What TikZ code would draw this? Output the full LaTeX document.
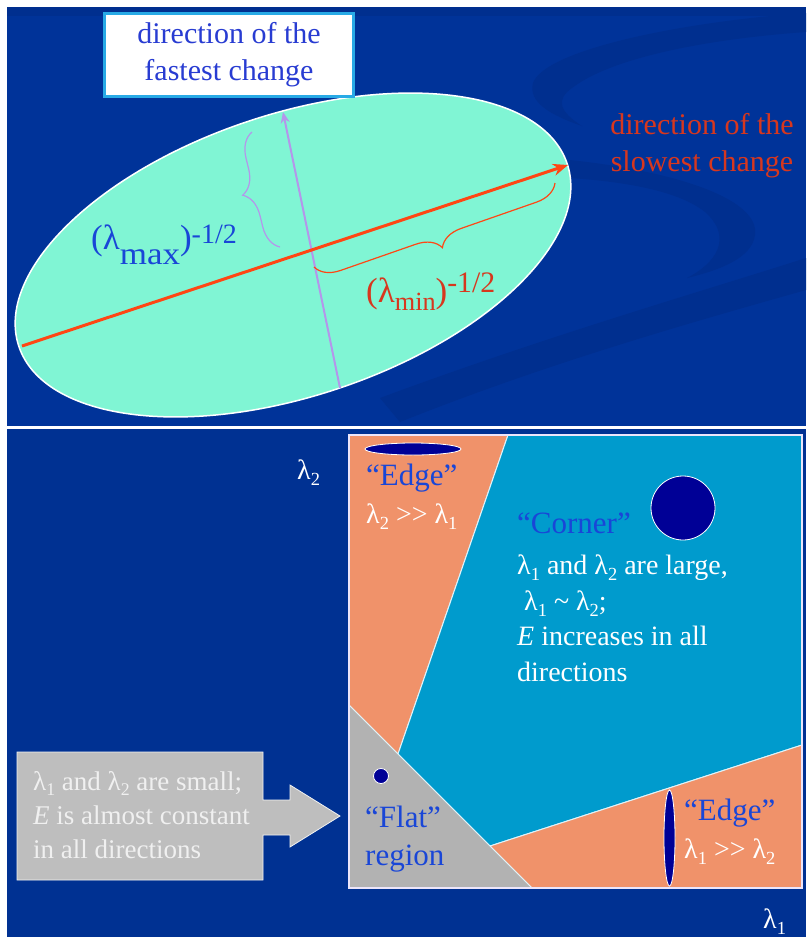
\documentclass[tikz,border=0pt]{standalone}
\usepackage{fontspec}
\setmainfont{Liberation Serif}
\usepackage{graphicx}
\usepackage{tikz}
\usetikzlibrary{arrows.meta,positioning,decorations.pathreplacing}
\definecolor{topbg}{RGB}{0,51,153}
\definecolor{botbg}{RGB}{0,49,146}
\definecolor{band}{RGB}{0,47,143}
\definecolor{aqua}{RGB}{128,245,212}
\definecolor{boxcyan}{RGB}{40,170,230}
\definecolor{fastblue}{RGB}{40,60,210}
\definecolor{slowred}{RGB}{215,55,30}
\definecolor{slowline}{RGB}{255,70,20}
\definecolor{lav}{RGB}{180,150,235}
\definecolor{lblue}{RGB}{25,70,215}
\definecolor{salmon}{RGB}{240,146,106}
\definecolor{cornerblue}{RGB}{0,155,205}
\definecolor{flatgray}{RGB}{178,178,178}
\definecolor{navy}{RGB}{0,0,150}
\definecolor{boxgray}{RGB}{190,190,190}
\definecolor{boxtext}{RGB}{240,240,240}
\newcommand{\lam}[1]{λ\raisebox{-0.22em}{\scalebox{0.66}{#1}}}
\newcommand{\muchgt}{>\kern0pt>}
\tikzset{
  fastbox/.style={draw=boxcyan, line width=3pt, fill=white, align=center, text=fastblue,
    minimum width=249pt, minimum height=83pt, font=\fontsize{30}{37}\selectfont},
  slowlbl/.style={text=slowred, align=center, font=\fontsize{30}{37}\selectfont},
  fastaxis/.style={draw=lav, line width=2pt, -{Stealth[length=11pt,width=9pt]}},
  slowaxis/.style={draw=slowline, line width=3pt, -{Stealth[length=15pt,width=12pt]}},
  fastbrace/.style={draw=lav, line width=1.2pt, decorate, decoration={brace, amplitude=24pt}},
  slowbrace/.style={draw=slowline, line width=1.2pt, decorate, decoration={brace, amplitude=24pt}},
  axlbl/.style={inner sep=0pt, anchor=base west, font=\fontsize{35}{40}\selectfont},
  region/.style={draw=white!88!cornerblue, line width=1pt},
  blob/.style={draw=white, line width=0.8pt, fill=navy},
  bluetxt/.style={text=lblue, inner sep=0pt, anchor=base west, align=left,
    font=\fontsize{31}{38}\selectfont},
  whitetxt/.style={text=white, inner sep=0pt, anchor=base west, align=left,
    font=\fontsize{28}{35.5}\selectfont},
  callout/.style={draw=white!80!boxgray, line width=0.8pt, fill=boxgray}
}

\begin{document}
\begin{tikzpicture}[x=1pt,y=-1pt]
  \useasboundingbox (0,0) rectangle (806,937);
  \fill[white] (0,0) rectangle (806,937);
  \fill[topbg] (7,7) rectangle (806,426);
  \fill[botbg] (7,429) rectangle (806,937);

  % background swooshes
  \fill[band] (7,7) rectangle (806,16);
  \fill[band] (806,13) .. controls (680,22) and (545,50) .. (533,83)
    .. controls (528,102) and (550,115) .. (582,126)
    .. controls (560,112) and (555,100) .. (572,88)
    .. controls (615,55) and (720,38) .. (806,32) -- cycle;
  \fill[band] (570,160) .. controls (680,172) and (760,200) .. (755,235)
    .. controls (752,258) and (720,270) .. (687,278)
    .. controls (725,258) and (728,232) .. (705,212)
    .. controls (680,192) and (630,182) .. (570,178) -- cycle;
  \fill[band] (380,398) .. controls (550,335) and (700,292) .. (806,258)
    -- (806,290) .. controls (700,320) and (550,362) .. (400,422) -- cycle;

  % ellipse and its axes
  \draw[white, line width=1.5pt, fill=aqua, rotate around={18.4:(293,255)}]
    (293,255) ellipse [x radius=289, y radius=141];
  \coordinate (fT) at (283,112);
  \coordinate (fB) at (340,388);
  \coordinate (sL) at (22,346);
  \coordinate (sR) at (568,165);
  \draw[fastaxis] (fB) -- (fT);
  \draw[slowaxis] (sL) -- (sR);
  \coordinate (bA) at (280,247);
  \coordinate (bB) at (252,132);
  \coordinate (bC) at (555,183);
  \coordinate (bD) at (314,267);
  \draw[fastbrace] (bA) -- (bB);
  \draw[slowbrace] (bC) -- (bD);

  \node[fastbox] (fast) at (229,55) {direction of the\\fastest change};
  \node[slowlbl] (slow) at (702,146) {direction of the\\slowest change};
  \node[axlbl, text=lblue] (lmax) at (91,249)
    {(λ\raisebox{-15pt}{\scalebox{1.0}[0.9]{max}})\raisebox{6pt}{\scalebox{0.8}{-1/2}}};
  \node[axlbl, text=slowred] (lmin) at (366,302)
    {(λ\raisebox{-8pt}{\scalebox{0.75}{min}})\raisebox{10pt}{\scalebox{0.85}{-1/2}}};

  % eigenvalue plane
  \coordinate (qTL) at (349,435);
  \coordinate (qTR) at (802,435);
  \coordinate (qBR) at (802,888);
  \coordinate (qBL) at (349,888);
  \coordinate (eT) at (508,435);
  \coordinate (eM) at (398,754);
  \coordinate (fL) at (349,705);
  \coordinate (fM) at (490,846);
  \coordinate (fE) at (532,888);
  \coordinate (eR) at (802,745);
  \filldraw[region, fill=salmon] (qTL) -- (eT) -- (eM) -- (fL) -- cycle;
  \filldraw[region, fill=cornerblue] (eT) -- (qTR) -- (eR) -- (fM) -- (eM) -- cycle;
  \filldraw[region, fill=salmon] (fM) -- (eR) -- (qBR) -- (fE) -- cycle;
  \filldraw[region, fill=flatgray] (fL) -- (fE) -- (qBL) -- cycle;
  \draw[draw=white!75!lav, line width=1.2pt] (qTL) rectangle (qBR);

  \draw[blob] (413,449) ellipse [x radius=48, y radius=6];
  \draw[blob] (683,508) circle [radius=32];
  \draw[blob] (381,776) circle [radius=7.5];
  \draw[blob] (669.5,838) ellipse [x radius=5.5, y radius=48];

  \node[bluetxt] (edgeA) at (366,485) {“Edge”};
  \node[whitetxt] (relA) at (366,523) {\lam{2} \muchgt\ \lam{1}};
  \node[bluetxt] (corner) at (517,533) {“Corner”};
  \node[whitetxt] (cornertxt) at (517,681)
    {\lam{1} and \lam{2} are large,\\\ \lam{1} \char`~\ \lam{2};\\\textit{E} increases in all\\directions};
  \node[bluetxt] (flat) at (365,865) {“Flat”\\region};
  \node[bluetxt] (edgeB) at (684,820) {“Edge”};
  \node[whitetxt] (relB) at (684,858) {\lam{1} \muchgt\ \lam{2}};
  \node[whitetxt] (ax2) at (297,479) {\lam{2}};
  \node[whitetxt] (ax1) at (763,928) {\lam{1}};

  % callout for the flat case
  \coordinate (cA) at (17,752);
  \coordinate (cTip) at (340,816);
  \draw[callout] (cA) -- (263,752) -- (263,800) -- (290,800) -- (290,785) -- (cTip)
    -- (290,847) -- (290,835) -- (263,835) -- (263,880) -- (17,880) -- cycle;
  \node[whitetxt, text=boxtext, font=\fontsize{27}{34}\selectfont] (flattxt) at (33,858)
    {\lam{1} and \lam{2} are small;\\\textit{E} is almost constant\\in all directions};
\end{tikzpicture}
\end{document}
